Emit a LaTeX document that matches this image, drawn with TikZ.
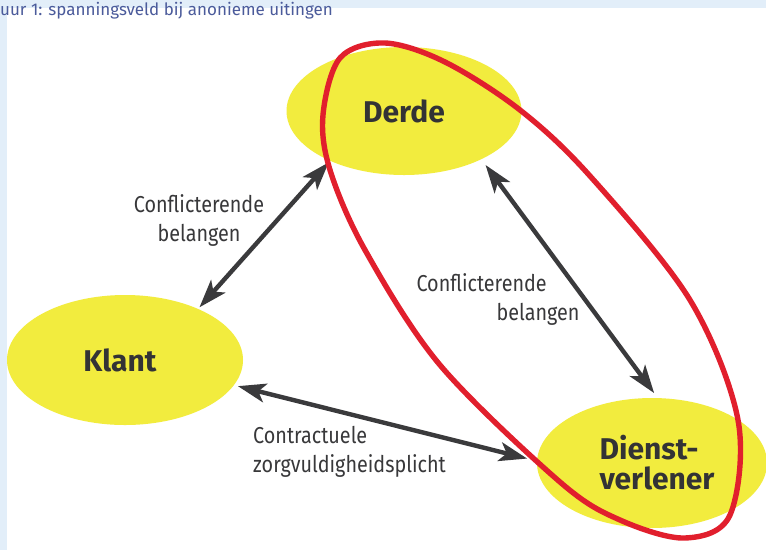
\documentclass[tikz,border=0pt]{standalone}
\usepackage{fontspec}
\setmainfont{Fira Sans}
\newfontfamily\lblfont[FakeStretch=0.86]{Fira Sans}
\usetikzlibrary{arrows.meta,shapes.geometric}
\definecolor{bgblue}{HTML}{E2EEF9}
\definecolor{capblue}{HTML}{4B5B9B}
\definecolor{ylw}{HTML}{F2EC3E}
\definecolor{rd}{HTML}{E11F2D}
\definecolor{arr}{HTML}{3A3A3C}
\definecolor{txt}{HTML}{333335}
\definecolor{lbl}{HTML}{38383A}
\tikzset{
  ell/.style={ellipse, fill=ylw, inner sep=0pt, text=txt,
    font=\fontsize{30}{30}\selectfont\bfseries},
  conn/.style={draw=arr, line width=4.4pt,
    {Stealth[length=28pt,width=19pt,inset=7pt]}-{Stealth[length=28pt,width=19pt,inset=7pt]}},
  lbltext/.style={text=lbl, inner sep=0pt, font=\lblfont\fontsize{23}{29}\selectfont},
  ring/.style={draw=rd, line width=5.4pt}
}
\begin{document}
\begin{tikzpicture}[x=1pt,y=-1pt]
\useasboundingbox (0,0) rectangle (766,550);
\fill[bgblue] (0,0) rectangle (766,550);
\fill[white] (7,8) rectangle (766,550);
\node[anchor=base west, inner sep=0pt, text=capblue, font=\fontsize{17}{17}\selectfont] (cap) at (0,15) {uur 1: spanningsveld bij anonieme uitingen};

\node[ell, minimum width=235pt, minimum height=128pt] (derde) at (404,111) {Derde};
\node[ell, minimum width=236pt, minimum height=130pt] (klant) at (125,360) {\hspace*{-10pt}Klant};
\node[ell, minimum width=230pt, minimum height=130pt, align=left] (dienst) at (652,463) {\hspace*{10pt}Dienst-\\\hspace*{10pt}verlener};

\draw[conn, shorten <=2pt, shorten >=2pt] (klant.35) -- (derde.214);
\draw[conn, shorten <=7pt, shorten >=6pt] (derde.328) -- (dienst.85);
\draw[conn, shorten <=4pt, shorten >=10pt] (klant.347) -- (dienst.179);

\node[lbltext, align=center] (l1) at (199,220) {Conflicterende\\belangen};
\node[lbltext, align=left] (l2) at (498,299) {Conflicterende\\\hspace*{80pt}belangen};
\node[lbltext, align=left, anchor=west] (l3) at (253,452) {Contractuele\\zorgvuldigheidsplicht};

\draw[ring] plot[smooth cycle, tension=0.55] coordinates {
 (323,115) (340,58) (385,43) (445,62) (520,110) (590,176) (690,300) (738,420)
 (730,515) (685,538) (620,520) (560,482) (440,365) (365,250) (330,170)};
\end{tikzpicture}
\end{document}
